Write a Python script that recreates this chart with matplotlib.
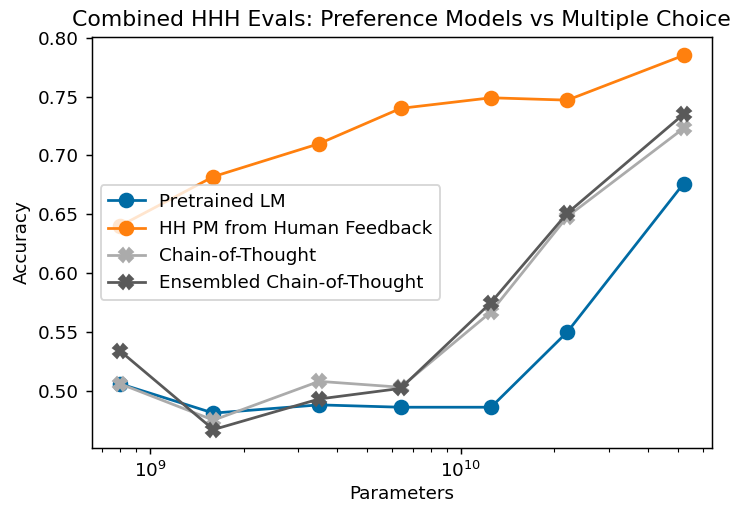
import matplotlib
matplotlib.use("Agg")
import matplotlib.pyplot as plt

# model sizes (parameters)
params = [8.0e8, 1.6e9, 3.5e9, 6.4e9, 1.25e10, 2.2e10, 5.2e10]

# accuracies
pretrained_lm = [0.506, 0.481, 0.488, 0.486, 0.486, 0.550, 0.676]
hh_pm = [0.640, 0.682, 0.710, 0.740, 0.749, 0.747, 0.785]
chain_of_thought = [0.506, 0.475, 0.508, 0.503, 0.567, 0.648, 0.723]
ensembled_cot = [0.534, 0.467, 0.493, 0.502, 0.575, 0.651, 0.735]

labels = ["Pretrained LM", "HH PM from Human Feedback",
          "Chain-of-Thought", "Ensembled Chain-of-Thought"]
colors = ["#006BA4", "#FF800E", "#ABABAB", "#595959"]
markers = ["o", "o", "X", "X"]

DPI = 132
fig = plt.figure(figsize=(735/DPI, 505/DPI), dpi=DPI)
ax = fig.add_axes([0.1247, 0.1123, 0.8436, 0.8150])

for ys, lab, c, m in zip([pretrained_lm, hh_pm, chain_of_thought, ensembled_cot],
                         labels, colors, markers):
    ax.plot(params, ys, marker=m, color=c, label=lab, markersize=7.5, linewidth=1.5)

ax.set_xscale("log")
ax.set_xlabel("Parameters", labelpad=2)
ax.set_ylabel("Accuracy")
ax.set_title("Combined HHH Evals: Preference Models vs Multiple Choice")
ax.legend(loc="center left")

fig.savefig("out.png", dpi=DPI)
